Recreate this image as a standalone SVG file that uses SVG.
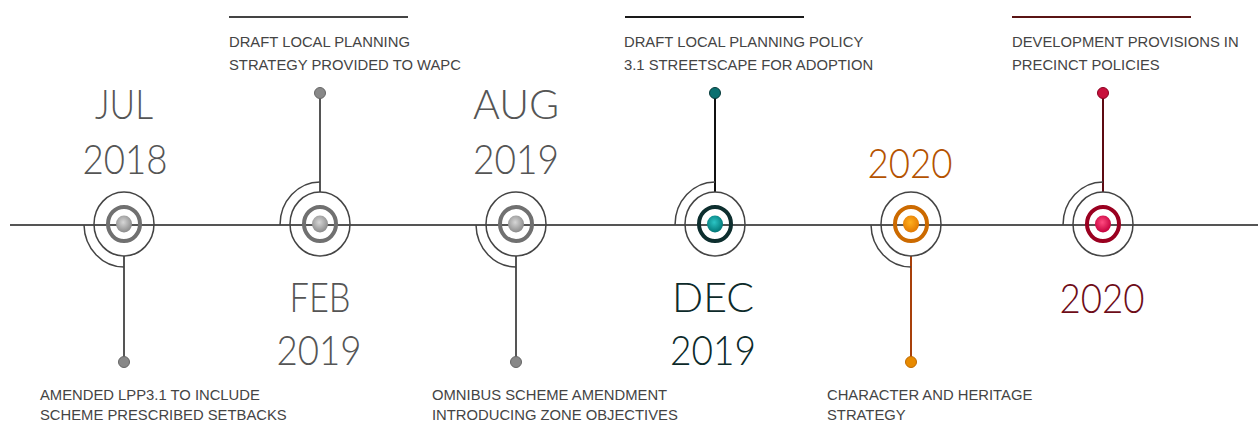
<svg xmlns="http://www.w3.org/2000/svg" width="1258" height="433" viewBox="0 0 1258 433">
<defs>
<radialGradient id="gGray" cx="45%" cy="40%" r="60%"><stop offset="0" stop-color="#d6d6d6"/><stop offset="1" stop-color="#8a8a8a"/></radialGradient>
<radialGradient id="gTeal" cx="45%" cy="40%" r="60%"><stop offset="0" stop-color="#2cc4c4"/><stop offset="1" stop-color="#007676"/></radialGradient>
<radialGradient id="gOrange" cx="45%" cy="40%" r="60%"><stop offset="0" stop-color="#ffb020"/><stop offset="1" stop-color="#e27800"/></radialGradient>
<radialGradient id="gRed" cx="45%" cy="40%" r="60%"><stop offset="0" stop-color="#ff4a80"/><stop offset="1" stop-color="#c4003c"/></radialGradient>
</defs>
<style>
.axis{stroke:#555;stroke-width:2;fill:none}
.outer{stroke:#444;stroke-width:1.5;fill:none}
.arc{stroke:#444;stroke-width:1.5;fill:none}
.ring{stroke-width:4;fill:none}
.stem{stroke-width:2;fill:none}
.date{font-family:"Lato","Liberation Sans",sans-serif;font-weight:300;font-size:41px;text-anchor:middle}
.lbl{font-family:"Liberation Sans",Arial,sans-serif;font-size:14.8px;fill:#444}
.rule{stroke-width:2}
</style>
<g id="connectors">
<line class="axis" x1="10" y1="225" x2="1258" y2="225"/>
</g>
<g id="n1">
<line class="stem" x1="124" y1="256" x2="124" y2="362" stroke="#555"/>
<circle cx="124" cy="362" r="5.5" fill="#888" stroke="#666" stroke-width="1"/>
<path class="arc" d="M84 225 A40 43 0 0 0 124 267"/>
<ellipse class="outer" cx="124" cy="224" rx="30" ry="32"/>
<ellipse class="ring" cx="124" cy="224" rx="16" ry="17" stroke="#707070"/>
<ellipse cx="124" cy="224" rx="8" ry="8.5" fill="url(#gGray)"/>
<text class="date" x="124" y="119" fill="#555" textLength="58" lengthAdjust="spacingAndGlyphs">JUL</text>
<text class="date" x="125" y="174" fill="#555" textLength="85" lengthAdjust="spacingAndGlyphs">2018</text>
<text class="lbl" x="40" y="400">AMENDED LPP3.1 TO INCLUDE</text>
<text class="lbl" x="40" y="420">SCHEME PRESCRIBED SETBACKS</text>
</g>
<g id="n2">
<line class="stem" x1="320" y1="192" x2="320" y2="93" stroke="#555"/>
<circle cx="320" cy="93" r="5.5" fill="#888" stroke="#666" stroke-width="1"/>
<path class="arc" d="M280 225 A40 43 0 0 1 320 182"/>
<ellipse class="outer" cx="320" cy="224" rx="30" ry="32"/>
<ellipse class="ring" cx="320" cy="224" rx="16" ry="17" stroke="#707070"/>
<ellipse cx="320" cy="224" rx="8" ry="8.5" fill="url(#gGray)"/>
<text class="date" x="320" y="312" fill="#555" textLength="61" lengthAdjust="spacingAndGlyphs">FEB</text>
<text class="date" x="319" y="365" fill="#555" textLength="85" lengthAdjust="spacingAndGlyphs">2019</text>
<line class="rule" x1="229" y1="17" x2="408" y2="17" stroke="#444"/>
<text class="lbl" x="229" y="47">DRAFT LOCAL PLANNING</text>
<text class="lbl" x="229" y="70">STRATEGY PROVIDED TO WAPC</text>
</g>
<g id="n3">
<line class="stem" x1="516" y1="256" x2="516" y2="362" stroke="#555"/>
<circle cx="516" cy="362" r="5.5" fill="#888" stroke="#666" stroke-width="1"/>
<path class="arc" d="M476 225 A40 43 0 0 0 516 267"/>
<ellipse class="outer" cx="516" cy="224" rx="30" ry="32"/>
<ellipse class="ring" cx="516" cy="224" rx="16" ry="17" stroke="#707070"/>
<ellipse cx="516" cy="224" rx="8" ry="8.5" fill="url(#gGray)"/>
<text class="date" x="516" y="119" fill="#555">AUG</text>
<text class="date" x="516" y="174" fill="#555" textLength="86" lengthAdjust="spacingAndGlyphs">2019</text>
<text class="lbl" x="432" y="400">OMNIBUS SCHEME AMENDMENT</text>
<text class="lbl" x="432" y="420">INTRODUCING ZONE OBJECTIVES</text>
</g>
<g id="n4">
<line class="stem" x1="715" y1="192" x2="715" y2="93" stroke="#111"/>
<circle cx="715" cy="93" r="5.5" fill="#0b7070" stroke="#063a3a" stroke-width="1"/>
<path class="arc" d="M675 225 A40 43 0 0 1 715 182"/>
<ellipse class="outer" cx="715" cy="224" rx="30" ry="32"/>
<ellipse class="ring" cx="715" cy="224" rx="16" ry="17" stroke="#0d2e2e"/>
<ellipse cx="715" cy="224" rx="8" ry="8.5" fill="url(#gTeal)"/>
<text class="date" x="713" y="312" fill="#0c2a2a">DEC</text>
<text class="date" x="713" y="365" fill="#0c2a2a" textLength="86" lengthAdjust="spacingAndGlyphs">2019</text>
<line class="rule" x1="625" y1="17" x2="804" y2="17" stroke="#1a1a1a"/>
<text class="lbl" x="624" y="47">DRAFT LOCAL PLANNING POLICY</text>
<text class="lbl" x="624" y="70">3.1 STREETSCAPE FOR ADOPTION</text>
</g>
<g id="n5">
<line class="stem" x1="911" y1="256" x2="911" y2="362" stroke="#a8400a"/>
<circle cx="911" cy="362" r="5.5" fill="#e88a00" stroke="#c06a00" stroke-width="1"/>
<path class="arc" d="M871 225 A40 43 0 0 0 911 267"/>
<ellipse class="outer" cx="911" cy="224" rx="30" ry="32"/>
<ellipse class="ring" cx="911" cy="224" rx="16" ry="17" stroke="#cc6a00"/>
<ellipse cx="911" cy="224" rx="8" ry="8.5" fill="url(#gOrange)"/>
<text class="date" x="910" y="178" fill="#b45200" textLength="85" lengthAdjust="spacingAndGlyphs">2020</text>
<text class="lbl" x="827" y="400">CHARACTER AND HERITAGE</text>
<text class="lbl" x="827" y="420">STRATEGY</text>
</g>
<g id="n6">
<line class="stem" x1="1103" y1="192" x2="1103" y2="93" stroke="#5e0a12"/>
<circle cx="1103" cy="93" r="5.5" fill="#c8103c" stroke="#8a0020" stroke-width="1"/>
<path class="arc" d="M1063 225 A40 43 0 0 1 1103 182"/>
<ellipse class="outer" cx="1103" cy="224" rx="30" ry="32"/>
<ellipse class="ring" cx="1103" cy="224" rx="16" ry="17" stroke="#9a0020"/>
<ellipse cx="1103" cy="224" rx="8" ry="8.5" fill="url(#gRed)"/>
<text class="date" x="1102" y="313" fill="#6e0c18" textLength="85" lengthAdjust="spacingAndGlyphs">2020</text>
<line class="rule" x1="1012" y1="17" x2="1191" y2="17" stroke="#5a1414"/>
<text class="lbl" x="1012" y="47">DEVELOPMENT PROVISIONS IN</text>
<text class="lbl" x="1012" y="70">PRECINCT POLICIES</text>
</g>
</svg>
